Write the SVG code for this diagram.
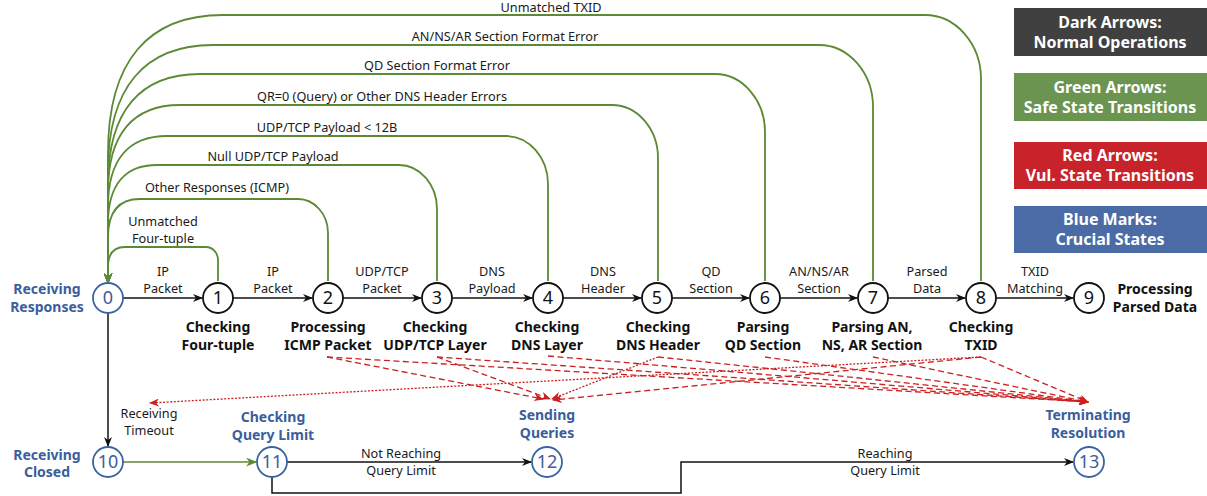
<svg xmlns="http://www.w3.org/2000/svg" width="1207" height="496" viewBox="0 0 1207 496">
<defs>
<style>
text{font-family:"Noto Sans","DejaVu Sans",sans-serif;}
.lbl{font-size:12.7px;fill:#1a1a1a;text-anchor:middle;}
.nl{font-size:14px;font-weight:bold;fill:#111;text-anchor:middle;}
.bl{font-size:14px;font-weight:bold;fill:#3b5e9c;text-anchor:middle;}
.num{font-size:18px;fill:#111;text-anchor:middle;}
.numb{font-size:18px;fill:#3b5e9c;text-anchor:middle;}
.leg{font-size:16px;font-weight:bold;fill:#fff;text-anchor:middle;}
.nc{fill:#fff;stroke:#111;stroke-width:1.8;}
.bc{fill:#fff;stroke:#3c63a3;stroke-width:1.8;}
.blk{fill:none;stroke:#111;stroke-width:1.5;marker-end:url(#ab);}
.grn{fill:none;stroke:#5b8a35;stroke-width:1.8;marker-end:url(#ag);}
.rd{fill:none;stroke:#cc1f1f;stroke-width:1.3;stroke-dasharray:6,3.5;marker-end:url(#ar);}
.rdt{fill:none;stroke:#cc1f1f;stroke-width:1.3;stroke-dasharray:2,1.6;marker-end:url(#ar);}
</style>
<marker id="ab" viewBox="0 0 10 8" refX="9" refY="4" markerWidth="10" markerHeight="8" markerUnits="userSpaceOnUse" orient="auto"><path d="M0,0 L10,4 L0,8 L3,4 z" fill="#111"/></marker>
<marker id="ag" viewBox="0 0 10 8" refX="9" refY="4" markerWidth="11" markerHeight="9" markerUnits="userSpaceOnUse" orient="auto"><path d="M0,0 L10,4 L0,8 L3,4 z" fill="#5b8a35"/></marker>
<marker id="ar" viewBox="0 0 10 8" refX="9" refY="4" markerWidth="10" markerHeight="8" markerUnits="userSpaceOnUse" orient="auto"><path d="M0,0 L10,4 L0,8 L3,4 z" fill="#cc1f1f"/></marker>
</defs>
<rect width="1207" height="496" fill="#fff"/>

<g id="legend">
<rect x="1014" y="8" width="193" height="48" fill="#404040"/>
<text class="leg" x="1110" y="28">Dark Arrows:</text>
<text class="leg" x="1110" y="48">Normal Operations</text>
<rect x="1014" y="73" width="193" height="48" fill="#6a9450"/>
<text class="leg" x="1110" y="93">Green Arrows:</text>
<text class="leg" x="1110" y="113">Safe State Transitions</text>
<rect x="1014" y="142" width="193" height="47" fill="#c8232a"/>
<text class="leg" x="1110" y="161">Red Arrows:</text>
<text class="leg" x="1110" y="181">Vul. State Transitions</text>
<rect x="1014" y="206" width="193" height="47" fill="#4a6ba5"/>
<text class="leg" x="1110" y="225">Blue Marks:</text>
<text class="leg" x="1110" y="245">Crucial States</text>
</g>

<g id="connectors">
<path class="grn" d="M981,281 V79 C981,43.8 955.8,15 925,15 H223 C148.3,15 108,61 108,153 V283"/>
<path class="grn" d="M873,281 V107 C873,72.9 848.7,45 819,45 H213 C144.8,45 108,87 108,171 V283"/>
<path class="grn" d="M765,281 V132 C765,100.1 742.5,74 715,74 H200 C140.2,74 108,110.8 108,184.4 V283"/>
<path class="grn" d="M658,281 V158 C658,128.9 637.3,105 612,105 H180 C133.2,105 108,133.8 108,191.4 V283"/>
<path class="grn" d="M548,281 V184 C548,157.6 529.1,136 506,136 H167 C128.7,136 108,159.6 108,206.8 V283"/>
<path class="grn" d="M437,281 V209 C437,184.8 419.9,165 399,165 H157 C125.2,165 108,184.6 108,223.8 V283"/>
<path class="grn" d="M328,281 V233 C328,214.3 314.5,199 298,199 H140 C119.2,199 108,211.8 108,237.4 V283"/>
<path class="grn" d="M218,281 V260 C218,252.9 212.6,247 206,247 H125 C114,247 108,253.8 108,267.4 V283"/>

<line class="blk" x1="123" y1="298" x2="202" y2="298"/>
<line class="blk" x1="233" y1="298" x2="312" y2="298"/>
<line class="blk" x1="343" y1="298" x2="421" y2="298"/>
<line class="blk" x1="452" y1="298" x2="532" y2="298"/>
<line class="blk" x1="563" y1="298" x2="641" y2="298"/>
<line class="blk" x1="672" y1="298" x2="749" y2="298"/>
<line class="blk" x1="780" y1="298" x2="857" y2="298"/>
<line class="blk" x1="888" y1="298" x2="965" y2="298"/>
<line class="blk" x1="996" y1="298" x2="1073" y2="298"/>

<line class="blk" x1="108" y1="313" x2="108" y2="446"/>
<line fill="none" stroke="#5b8a35" stroke-width="1.6" marker-end="url(#ag)" x1="123" y1="462" x2="256" y2="462"/>
<line class="blk" x1="287" y1="462" x2="531" y2="462"/>
<path class="blk" d="M272,477 V493 H681 V462 H1073"/>

<line class="rd" x1="327" y1="357" x2="543" y2="399"/>
<line class="rd" x1="437" y1="357" x2="550" y2="399"/>
<line class="rdt" x1="658" y1="357" x2="552" y2="399"/>
<line class="rd" x1="981" y1="357" x2="553" y2="400"/>
<line class="rd" x1="327" y1="357" x2="1088" y2="402"/>
<line class="rd" x1="437" y1="357" x2="1088" y2="402"/>
<line class="rd" x1="548" y1="356" x2="1088" y2="402"/>
<line class="rd" x1="658" y1="357" x2="1088" y2="402"/>
<line class="rd" x1="765" y1="357" x2="1088" y2="402"/>
<line class="rd" x1="873" y1="357" x2="1088" y2="402"/>
<line class="rd" x1="981" y1="357" x2="1088" y2="402"/>
<line class="rdt" x1="981" y1="357" x2="150" y2="403"/>
</g>

<g id="conn-labels">
<text class="lbl" x="551" y="12">Unmatched TXID</text>
<text class="lbl" x="505" y="41">AN/NS/AR Section Format Error</text>
<text class="lbl" x="437" y="70">QD Section Format Error</text>
<text class="lbl" x="382" y="101">QR=0 (Query) or Other DNS Header Errors</text>
<text class="lbl" x="327" y="132">UDP/TCP Payload &lt; 12B</text>
<text class="lbl" x="273" y="161">Null UDP/TCP Payload</text>
<text class="lbl" x="217" y="192">Other Responses (ICMP)</text>
<text class="lbl" x="163" y="226">Unmatched</text>
<text class="lbl" x="163" y="243">Four-tuple</text>
<text class="lbl" x="163" y="276">IP</text><text class="lbl" x="163" y="293">Packet</text>
<text class="lbl" x="273" y="276">IP</text><text class="lbl" x="273" y="293">Packet</text>
<text class="lbl" x="382" y="276">UDP/TCP</text><text class="lbl" x="382" y="293">Packet</text>
<text class="lbl" x="492" y="276">DNS</text><text class="lbl" x="492" y="293">Payload</text>
<text class="lbl" x="603" y="276">DNS</text><text class="lbl" x="603" y="293">Header</text>
<text class="lbl" x="711" y="276">QD</text><text class="lbl" x="711" y="293">Section</text>
<text class="lbl" x="819" y="276">AN/NS/AR</text><text class="lbl" x="819" y="293">Section</text>
<text class="lbl" x="927" y="276">Parsed</text><text class="lbl" x="927" y="293">Data</text>
<text class="lbl" x="1035" y="276">TXID</text><text class="lbl" x="1035" y="293">Matching</text>
<text class="lbl" x="149" y="418">Receiving</text><text class="lbl" x="149" y="435">Timeout</text>
<text class="lbl" x="401" y="458">Not Reaching</text><text class="lbl" x="401" y="475">Query Limit</text>
<text class="lbl" x="885" y="458">Reaching</text><text class="lbl" x="885" y="475">Query Limit</text>
</g>

<g id="n0"><circle class="bc" cx="108" cy="298" r="15"/><text class="numb" x="108" y="304">0</text>
<text class="bl" x="47" y="294">Receiving</text><text class="bl" x="47" y="312">Responses</text></g>
<g id="n1"><circle class="nc" cx="218" cy="298" r="15"/><text class="num" x="218" y="304">1</text>
<text class="nl" x="218" y="332">Checking</text><text class="nl" x="218" y="350">Four-tuple</text></g>
<g id="n2"><circle class="nc" cx="328" cy="298" r="15"/><text class="num" x="328" y="304">2</text>
<text class="nl" x="328" y="332">Processing</text><text class="nl" x="328" y="350">ICMP Packet</text></g>
<g id="n3"><circle class="nc" cx="437" cy="298" r="15"/><text class="num" x="437" y="304">3</text>
<text class="nl" x="435" y="332">Checking</text><text class="nl" x="435" y="350">UDP/TCP Layer</text></g>
<g id="n4"><circle class="nc" cx="548" cy="298" r="15"/><text class="num" x="548" y="304">4</text>
<text class="nl" x="547" y="332">Checking</text><text class="nl" x="547" y="350">DNS Layer</text></g>
<g id="n5"><circle class="nc" cx="657" cy="298" r="15"/><text class="num" x="657" y="304">5</text>
<text class="nl" x="658" y="332">Checking</text><text class="nl" x="658" y="350">DNS Header</text></g>
<g id="n6"><circle class="nc" cx="765" cy="298" r="15"/><text class="num" x="765" y="304">6</text>
<text class="nl" x="763" y="332">Parsing</text><text class="nl" x="763" y="350">QD Section</text></g>
<g id="n7"><circle class="nc" cx="873" cy="298" r="15"/><text class="num" x="873" y="304">7</text>
<text class="nl" x="872" y="332">Parsing AN,</text><text class="nl" x="872" y="350">NS, AR Section</text></g>
<g id="n8"><circle class="nc" cx="981" cy="298" r="15"/><text class="num" x="981" y="304">8</text>
<text class="nl" x="981" y="332">Checking</text><text class="nl" x="981" y="350">TXID</text></g>
<g id="n9"><circle class="nc" cx="1089" cy="298" r="15"/><text class="num" x="1089" y="304">9</text>
<text class="nl" x="1155" y="294">Processing</text><text class="nl" x="1155" y="312">Parsed Data</text></g>
<g id="n10"><circle class="bc" cx="108" cy="462" r="15"/><text class="numb" x="108" y="468">10</text>
<text class="bl" x="47" y="460">Receiving</text><text class="bl" x="47" y="477">Closed</text></g>
<g id="n11"><circle class="bc" cx="272" cy="462" r="15"/><text class="numb" x="272" y="468">11</text>
<text class="bl" x="273" y="422">Checking</text><text class="bl" x="273" y="440">Query Limit</text></g>
<g id="n12"><circle class="bc" cx="547" cy="462" r="15"/><text class="numb" x="547" y="468">12</text>
<text class="bl" x="547" y="420">Sending</text><text class="bl" x="547" y="438">Queries</text></g>
<g id="n13"><circle class="bc" cx="1089" cy="462" r="15"/><text class="numb" x="1089" y="468">13</text>
<text class="bl" x="1088" y="420">Terminating</text><text class="bl" x="1088" y="438">Resolution</text></g>
</svg>
